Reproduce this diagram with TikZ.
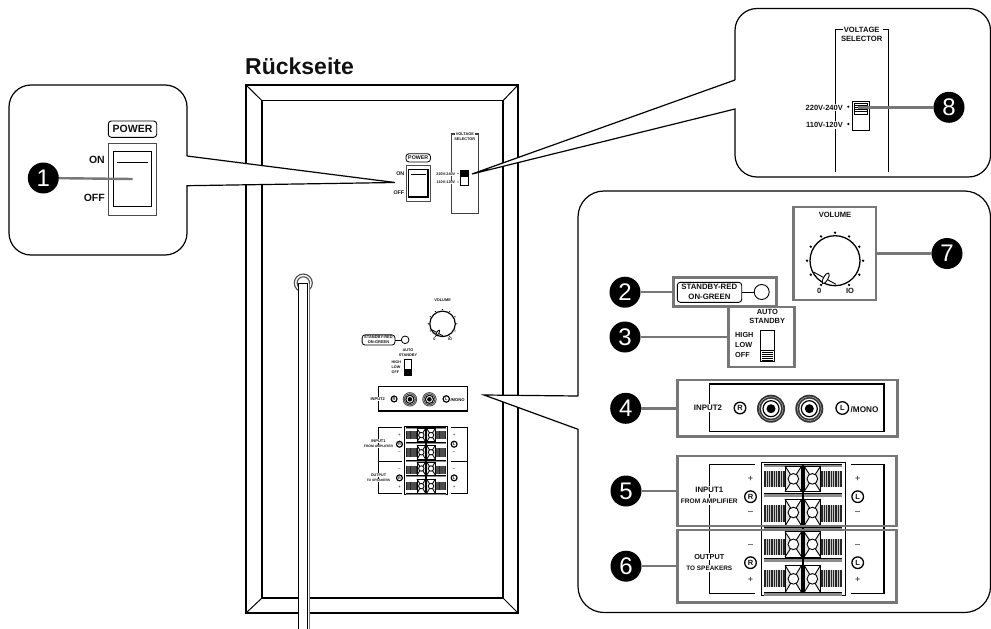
\documentclass[tikz,border=0pt]{standalone}
\usepackage{fontspec}
\setmainfont{Liberation Sans}
\newcommand{\tf}[1]{\fontsize{#1}{#1}\selectfont\bfseries}
\newcommand{\nf}[1]{\fontsize{#1}{#1}\selectfont}
\def\ls{1}
\def\stripecol{gray!45}
\definecolor{ink}{HTML}{111111}
\definecolor{leadgray}{HTML}{777777}
\tikzset{
  th/.style={line width=\ls*0.9pt},
  med/.style={line width=\ls*1.3pt},
  lbl/.style={inner sep=0pt,text=ink,align=center},
  whitelbl/.style={inner sep=1pt,fill=white,text=ink,align=center},
  badge/.style={circle,fill=black,text=white,minimum size=31pt,inner sep=0pt,outer sep=0pt,font=\fontsize{24}{24}\selectfont},
  graybox/.style={draw=leadgray,line width=2.6pt,outer sep=0pt,inner sep=0pt},
  lead/.style={draw=leadgray,line width=2.4pt},
  callout/.style={draw=black,fill=white,line width=1.2pt,line join=miter},
}
% --- POWER switch panel (drawn in the coordinates of the enlarged view)
\newcommand{\powerpanel}{%
  \draw[th,rounded corners=3pt] (108.3,121) rectangle (156.7,137.3);
  \node[lbl,font=\tf{10.5}] at (132.5,129) {POWER};
  \draw[th,draw=black!70] (108.3,143.3) rectangle (156.7,215);
  \draw[med] (113.3,151.7) rectangle (151.7,206.7);
  \draw[th] (117.3,162.3) -- (148.3,162.3);
  \node[lbl,anchor=east,font=\tf{10.5}] at (105,160) {ON};
  \node[lbl,anchor=east,font=\tf{10.5}] at (105,198.3) {OFF};
}
% --- voltage selector parts
\newcommand{\voltagepanel}{%
  \node[lbl,font=\tf{7.6}] at (861.7,30) {VOLTAGE};
  \node[lbl,font=\tf{7.6}] at (861.7,39) {SELECTOR};
  \node[whitelbl,anchor=east,font=\tf{7.5}] at (844,107.7) {220V-240V};
  \node[whitelbl,anchor=east,font=\tf{7.5}] at (844,125) {110V-120V};
  \fill (848.3,106.7) circle[radius=1.2];
  \fill (848.3,124) circle[radius=1.2];
  \draw[th,fill=white] (852.3,101) rectangle (869.3,130);
  \draw[th,fill=white] (854,103) rectangle (867.5,114);
  \foreach \yy in {105,107.2,109.4,111.6}{\draw[th] (854,\yy) -- (867.5,\yy);}
}
% --- one binding-post row
\newcommand{\termrow}[3]{% hatch centre, box top, box bottom
  \fill[black!85] (764,#1-8.3) rectangle (785,#1+8.3);
  \fill[black!85] (820.7,#1-8.3) rectangle (842.3,#1+8.3);
  \foreach \xx in {766,768.3,...,783}{\draw[\stripecol,line width=0.6pt] (\xx,#1-8.3) -- (\xx,#1+8.3);}
  \foreach \xx in {823,825.3,...,841}{\draw[\stripecol,line width=0.6pt] (\xx,#1-8.3) -- (\xx,#1+8.3);}
  \foreach \xa/\xb in {785/801.7,804/820.7}{
    \draw[th,fill=white] (\xa,#2) rectangle (\xb,#3);
    \fill[black!10] (\xa,#2) -- ({(\xa+\xb)/2},{(#2+#3)/2}) -- (\xa,#3) -- cycle;
    \fill[black!10] (\xb,#2) -- ({(\xa+\xb)/2},{(#2+#3)/2}) -- (\xb,#3) -- cycle;
    \draw[th] (\xa,#2) -- (\xb,#3) (\xa,#3) -- (\xb,#2);
    \draw[th,fill=white] ({(\xa+\xb)/2},{(#2+#3)/2}) circle[radius=5.3];
    \draw[th] (\xa,#2) rectangle (\xb,#3);
  }
}
% --- lower half of the rear panel
\newcommand{\rearpanel}{%
  % volume
  \node[lbl,font=\tf{7.6}] at (835,215) {VOLUME};
  \draw[med] (835,260.7) circle[radius=25];
  \foreach \a in {-60,-30,0,30,60,90,120,150,180,210,240}{\fill ($(835,260.7)+({28*cos(\a)},{-28*sin(\a)})$) circle[radius=1.3];}
  \draw[th] (814,272.3) -- (836,284.3);
  \draw[th,fill=white,shift={(825.7,278.3)},rotate=60] (0,0) ellipse[x radius=6,y radius=2.2];
  \node[lbl,font=\tf{7.5}] at (819.3,291) {0};
  \node[lbl,font=\tf{7.5}] at (850,291) {IO};
  % standby
  \draw[th,rounded corners=3pt] (677.3,282.3) rectangle (741.7,302.3);
  \node[lbl,font=\tf{7.8}] at (709.3,287.3) {STANDBY-RED};
  \node[lbl,font=\tf{7.8}] at (709.5,297) {ON-GREEN};
  \draw[th] (741.7,292.3) -- (754.2,292.3);
  \draw[th] (761.7,292) circle[radius=7.5];
  % auto standby
  \node[lbl,font=\tf{7.5}] at (767.3,312.3) {AUTO};
  \node[lbl,font=\tf{7.5}] at (767.3,321.3) {STANDBY};
  \node[lbl,anchor=west,font=\tf{7.3}] at (735,335) {HIGH};
  \node[lbl,anchor=west,font=\tf{7.3}] at (735,345) {LOW};
  \node[lbl,anchor=west,font=\tf{7.3}] at (735,355.3) {OFF};
  \draw[th] (760.7,330) rectangle (774.3,361);
  \draw[th] (760.7,350) -- (774.3,350);
  \foreach \yy in {352,354,356,358,360}{\draw[th] (762,\yy) -- (773,\yy);}
  % input 2
  \draw[med] (709.3,384) rectangle (884,431.7);
  \node[whitelbl,font=\tf{7.9}] at (708,407.7) {INPUT2};
  \draw[med] (740,408) circle[radius=5.8];
  \node[lbl,font=\tf{7.5}] at (740,408) {R};
  \foreach \xx in {771,809.3}{
    \fill[black!80] (\xx,408.7) circle[radius=14];
    \draw[gray!70,line width=0.6pt] (\xx,408.7) circle[radius=12];
    \fill[white] (\xx,408.7) circle[radius=10];
    \draw[line width=\ls*1.2pt] (\xx,408.7) circle[radius=8];
    \fill (\xx,408.7) circle[radius=4.5];
  }
  \draw[med] (842.3,408) circle[radius=6.3];
  \node[lbl,font=\tf{7.5}] at (842.3,408) {L};
  \node[lbl,anchor=west,inner sep=0.5pt,font=\tf{8.2}] at (850,410) {/MONO};
  % bracket lines
  \draw[med] (755,464.3) -- (709.3,464.3) -- (709.3,593.3) -- (755,593.3);
  \draw[med] (709.3,530.5) -- (755,530.5);
  \draw[med] (851,464.3) -- (884,464.3) -- (884,593.3) -- (851,593.3);
  \draw[med] (851,530.5) -- (884,530.5);
  % labels
  \node[whitelbl,font=\tf{7.8}] at (709.3,490) {INPUT1};
  \node[whitelbl,font=\tf{6.6}] at (709.3,501.7) {FROM AMPLIFIER};
  \node[whitelbl,font=\tf{7.3}] at (709.3,556.7) {OUTPUT};
  \node[whitelbl,font=\tf{6.4}] at (709.3,568.3) {TO SPEAKERS};
  \foreach \xx/\ll in {750.5/R,857.7/L}{
    \node[lbl,font=\nf{9}] at (\xx,479.3) {+};
    \node[lbl,font=\nf{9}] at (\xx,513.3) {--};
    \node[lbl,font=\nf{9}] at (\xx,546) {--};
    \node[lbl,font=\nf{9}] at (\xx,580) {+};
    \draw[med] (\xx,496.7) circle[radius=5.8];
    \node[lbl,font=\tf{7.5}] at (\xx,496.7) {\ll};
    \draw[med] (\xx,562.7) circle[radius=5.8];
    \node[lbl,font=\tf{7.5}] at (\xx,562.7) {\ll};
  }
  % terminal block
  \draw[th,fill=white] (761,462.3) rectangle (845.3,595.7);
  \foreach \yy in {464,493.5,527.5,558.5,592.5}{
    \fill[black!45] (764,\yy) rectangle (842.3,\yy+3.2);
    \draw[th] (764,\yy) -- (842.3,\yy);
  }
  \termrow{479}{466}{491.7}
  \termrow{513.3}{499}{526}
  \termrow{547}{531.7}{557}
  \termrow{578.7}{565}{592.7}
  \draw[line width=\ls*2pt] (802.9,465) -- (802.9,593);
}
\usetikzlibrary{calc}
\begin{document}
\begin{tikzpicture}[x=1pt,y=-1pt,line join=miter,color=black]
\useasboundingbox (0,0) rectangle (991,629);
% title
\node[lbl,anchor=base west,font=\tf{23}] (title) at (245,74) {Rückseite};
% cabinet
\draw[line width=2.6pt] (246,85) rectangle (518,613);
\draw[line width=1.3pt] (262,100.7) rectangle (503,598);
\draw[line width=1pt] (246,85) -- (262,100.7) (518,85) -- (503,100.7) (246,613) -- (262,598) (518,613) -- (503,598);
% cord
\draw[line width=1.1pt,draw=black!70,fill=white] (303.3,283) circle[radius=9];
\draw[line width=1.1pt,draw=black!70,fill=white] (303.3,283) circle[radius=6.2];
\fill[white] (298.5,283) rectangle (308.5,629);
\draw[line width=1.2pt] (298.5,629) -- (298.5,283.5) -- (307.7,283.5) -- (307.7,629);
\draw[line width=1pt,draw=black!50] (309.3,284) -- (309.3,629);
% small panels on the cabinet
\begin{scope}[shift={(351.2,92.5)},scale=0.506,transform shape]
  \def\ls{0.95}
  \powerpanel
\end{scope}
\begin{scope}[shift={(28.8,119.2)},scale=0.506,transform shape]
  \def\ls{0.95}
  \draw[med,draw=black!75] (843,29.3) -- (835.7,29.3) -- (835.7,187) -- (888.3,187) -- (888.3,29.3) -- (882.7,29.3);
  \voltagepanel
\end{scope}
\begin{scope}[shift={(16.7,190.9)},scale=0.51,transform shape]
  \def\ls{0.9}
  \def\stripecol{black!70}
  \rearpanel
\end{scope}
% call-out outlines
\draw[callout] (187,156) -- (395,182.5) -- (187,185.7) [rounded corners=22pt] -- (187,255) -- (9,255) -- (9,85) -- (187,85) -- (187,156);
\draw[callout] (735,80) -- (472,174) -- (735,109) [rounded corners=22pt] -- (735,177) -- (990.5,177) -- (990.5,8.5) -- (735,8.5) -- (735,80);
\draw[callout] (578,396) -- (484,395) -- (578,429.3) [rounded corners=26pt] -- (578,612.5) -- (990.5,612.5) -- (990.5,191) -- (578,191) -- (578,396);
% enlarged POWER
\powerpanel
\coordinate (pwrsw) at (132.7,179);
\node[badge] (b1) at (43.3,178) {1};
\draw[lead] (b1) -- (pwrsw);
% enlarged voltage selector
\draw[med,draw=black] (843,29.3) -- (835.7,29.3) -- (835.7,171.7);
\draw[med,draw=black] (882.7,29.3) -- (888.3,29.3) -- (888.3,171.7);
\voltagepanel
\coordinate (voltsw) at (858,107.3);
\node[badge] (b8) at (949,107.3) {8};
\draw[lead] (b8) -- (voltsw);
% enlarged lower panel
\rearpanel
\node[graybox,minimum width=82.7pt,minimum height=93pt] (volbox) at (834.7,253.5) {};
\node[graybox,minimum width=103.4pt,minimum height=29pt] (standbybox) at (725,292.2) {};
\node[graybox,minimum width=66pt,minimum height=60pt] (autobox) at (761.3,337) {};
\node[graybox,minimum width=220pt,minimum height=56.7pt] (input2box) at (787.3,408.3) {};
\node[graybox,minimum width=219.4pt,minimum height=70pt] (input1box) at (787,491) {};
\node[graybox,minimum width=219.4pt,minimum height=72.3pt] (outputbox) at (787,566.2) {};
\node[badge] (b2) at (625,292.2) {2};
\node[badge] (b3) at (625,337) {3};
\node[badge] (b4) at (625.7,408.3) {4};
\node[badge] (b5) at (626,491) {5};
\node[badge] (b6) at (626,566.2) {6};
\node[badge] (b7) at (947,253.5) {7};
\draw[lead] (b2) -- (standbybox);
\draw[lead] (b3) -- (autobox);
\draw[lead] (b4) -- (input2box);
\draw[lead] (b5) -- (input1box);
\draw[lead] (b6) -- (outputbox);
\draw[lead] (b7) -- (volbox);
\end{tikzpicture}
\end{document}
